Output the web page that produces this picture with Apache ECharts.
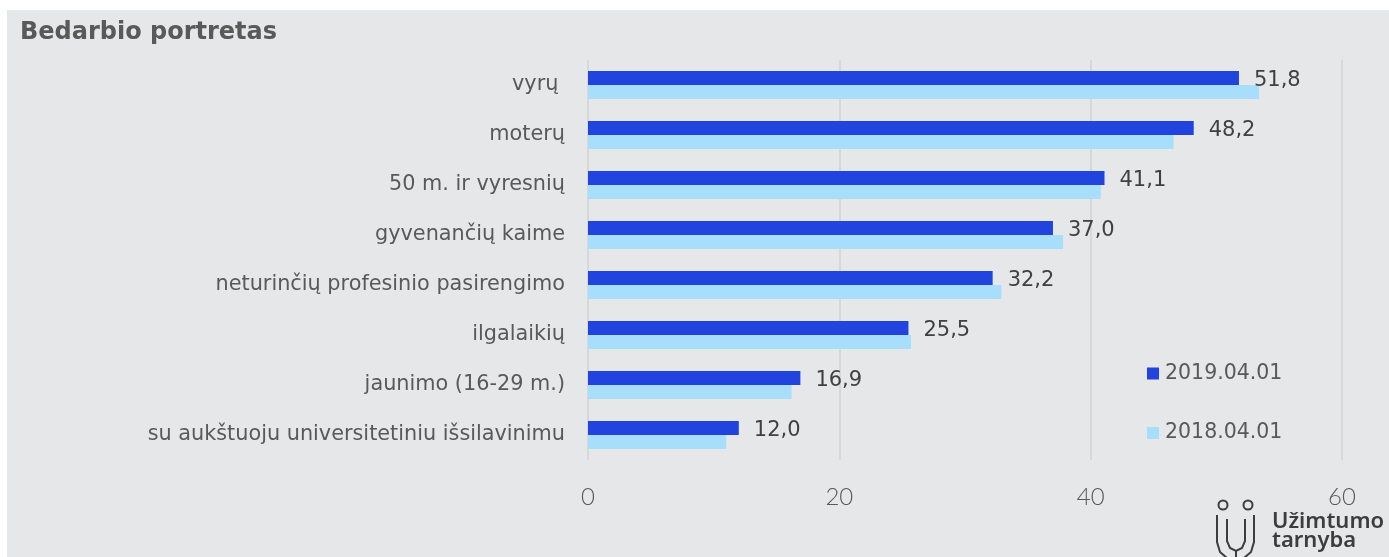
<!DOCTYPE html>
<html><head><meta charset="utf-8">
<script src="https://cdn.jsdelivr.net/npm/echarts@6/dist/echarts.min.js"></script>
<style>
html,body{margin:0;padding:0;background:#fff;}
#bg{position:absolute;left:7px;top:10px;width:1382px;height:547px;background:#e6e7e9;}
#chart{position:absolute;left:0;top:0;width:1389px;height:557px;}
</style></head><body><div id="bg"></div><div id="chart"></div>
<script>
const titleText = 'Bedarbio portretas';
const categories = ['vyrų ', 'moterų', '50 m. ir vyresnių', 'gyvenančių kaime', 'neturinčių profesinio pasirengimo', 'ilgalaikių', 'jaunimo (16-29 m.)', 'su aukštuoju universitetiniu išsilavinimu'];
const values2019 = [51.8, 48.2, 41.1, 37.0, 32.2, 25.5, 16.9, 12.0];
const values2018 = [53.4, 46.6, 40.8, 37.8, 32.9, 25.7, 16.2, 11.0];
const seriesNames = ['2019.04.01', '2018.04.01'];
const xMin = 0, xMax = 60, xStep = 20;

const FONT = 'DejaVu Sans';
const TXT = '#595959';
const chart = echarts.init(document.getElementById('chart'), null, {renderer: 'canvas'});
chart.setOption({
  backgroundColor: 'transparent',
  animation: false,
  title: {
    text: titleText, left: 15, top: 16,
    textStyle: {fontFamily: FONT, fontWeight: 'bold', fontSize: 24, color: TXT}
  },
  legend: {
    orient: 'vertical', left: 1142, top: 358, itemGap: 38.5,
    itemWidth: 12, itemHeight: 12, icon: 'rect',
    data: seriesNames,
    textStyle: {fontFamily: FONT, fontSize: 20.5, color: TXT, padding: [0,0,0,1]}
  },
  grid: {left: 588, right: 47, top: 60, height: 400, containLabel: false},
  xAxis: {
    type: 'value', min: xMin, max: xMax, interval: xStep,
    axisLine: {show: false}, axisTick: {show: false},
    splitLine: {show: true, lineStyle: {color: '#d2d3d5', width: 1.5}},
    axisLabel: {margin: 25, fontFamily: 'Lato', fontWeight: 300, fontSize: 24, color: TXT}
  },
  yAxis: {
    type: 'category', data: categories, inverse: true,
    axisLine: {show: false}, axisTick: {show: false},
    axisLabel: {margin: 23, fontFamily: FONT, fontSize: 20.8, color: TXT}
  },
  series: [
    {
      name: seriesNames[0], type: 'bar', data: values2019,
      barWidth: 14, barGap: '0%',
      itemStyle: {color: '#2044dd'},
      label: {
        show: true, position: 'right', distance: 15, offset: [0, 3],
        fontFamily: FONT, fontSize: 21, color: '#404040',
        formatter: p => p.value.toFixed(1).replace('.', ',')
      }
    },
    {
      name: seriesNames[1], type: 'bar', data: values2018,
      barWidth: 14, barGap: '0%',
      itemStyle: {color: '#a6defc'}
    }
  ],
  graphic: [
    {type: 'circle', shape: {cx: 1223, cy: 505, r: 4.5}, style: {fill: 'none', stroke: '#3d3d3d', lineWidth: 2}},
    {type: 'circle', shape: {cx: 1248, cy: 505, r: 4.5}, style: {fill: 'none', stroke: '#3d3d3d', lineWidth: 2}},
    {type: 'polyline', shape: {points: [[1217,515],[1217,542],[1220,552],[1227,558]]}, style: {fill: 'none', stroke: '#3d3d3d', lineWidth: 2}},
    {type: 'polyline', shape: {points: [[1254,515],[1254,542],[1251,552],[1244,558]]}, style: {fill: 'none', stroke: '#3d3d3d', lineWidth: 2}},
    {type: 'polyline', shape: {points: [[1227,519],[1227,541],[1230,548],[1236,551],[1242,548],[1245,541],[1245,519]]}, style: {fill: 'none', stroke: '#3d3d3d', lineWidth: 2}},
    {type: 'line', shape: {x1: 1236, y1: 551, x2: 1236, y2: 557}, style: {stroke: '#3d3d3d', lineWidth: 2}},
    {type: 'text', left: 1272, top: 511, style: {text: 'Užimtumo', font: '600 22px "Noto Sans"', fill: '#3d3d3d'}},
    {type: 'text', left: 1272, top: 530, style: {text: 'tarnyba', font: '600 22px "Noto Sans"', fill: '#3d3d3d'}}
  ]
});
</script></body></html>
